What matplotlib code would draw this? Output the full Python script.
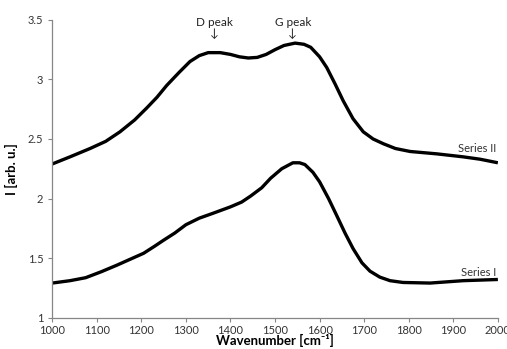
import matplotlib
matplotlib.use("Agg")
import matplotlib.pyplot as plt

plt.rcParams["font.family"] = ["Lato", "DejaVu Sans"]

# --- Data ---
wn_1 = [1000, 1040, 1075, 1110, 1145, 1175, 1205, 1230, 1250, 1275, 1300,
        1330, 1360, 1400, 1425, 1445, 1470, 1490, 1515, 1540, 1555, 1567,
        1585, 1600, 1620, 1638, 1657, 1675, 1695, 1713, 1735, 1758, 1787,
        1848, 1885, 1922, 2000]
series_1 = [1.29, 1.31, 1.335, 1.385, 1.44, 1.49, 1.54, 1.60, 1.65, 1.71, 1.78,
            1.835, 1.875, 1.93, 1.97, 2.02, 2.09, 2.17, 2.25, 2.30, 2.30, 2.285,
            2.22, 2.14, 2.00, 1.86, 1.71, 1.58, 1.46, 1.39, 1.34, 1.31, 1.295,
            1.29, 1.30, 1.31, 1.32]

wn_2 = [1000, 1040, 1085, 1120, 1152, 1185, 1212, 1235, 1257, 1285, 1309,
        1330, 1350, 1377, 1400, 1420, 1440, 1460, 1480, 1500, 1520, 1545,
        1565, 1580, 1600, 1616, 1635, 1653, 1675, 1698, 1720, 1743, 1770,
        1803, 1863, 1922, 1960, 2000]
series_2 = [2.29, 2.35, 2.42, 2.48, 2.56, 2.66, 2.76, 2.85, 2.95, 3.06, 3.15,
            3.20, 3.225, 3.225, 3.21, 3.19, 3.18, 3.185, 3.21, 3.25, 3.285, 3.305,
            3.295, 3.27, 3.19, 3.10, 2.96, 2.82, 2.67, 2.56, 2.50, 2.46, 2.42,
            2.395, 2.375, 2.35, 2.33, 2.30]

peaks = ["D peak", "G peak"]
peak_pos = [1365, 1540]

xticks = list(range(1000, 2001, 100))
yticks = [1, 1.5, 2, 2.5, 3, 3.5]

# --- Figure ---
fig = plt.figure(figsize=(5.07, 3.49), dpi=100)
ax = fig.add_axes([0.103, 0.09, 0.879, 0.853])

for wn, vals in [(wn_1, series_1), (wn_2, series_2)]:
    ax.plot(wn, vals, color="black", linewidth=2.4,
            solid_joinstyle="round", solid_capstyle="butt")

ax.text(1997, 2.37, "Series II", ha="right", va="bottom", fontsize=8, color="#333333")
ax.text(1997, 1.335, "Series I", ha="right", va="bottom", fontsize=8, color="#333333")

for name, pos in zip(peaks, peak_pos):
    ax.annotate(name + "\n\u2193", xy=(pos, 3.43), xycoords="data",
                ha="center", va="center", fontsize=8.5, color="#222222",
                annotation_clip=False, linespacing=1.0)

ax.set_xlim(1000, 2000)
ax.set_ylim(1, 3.5)
ax.set_xticks(xticks)
ax.set_yticks(yticks)
ax.set_yticklabels(["1", "1.5", "2", "2.5", "3", "3.5"])

for side in ["top", "right"]:
    ax.spines[side].set_visible(False)
for side in ["left", "bottom"]:
    ax.spines[side].set_color("#868686")
    ax.spines[side].set_linewidth(0.9)

ax.tick_params(axis="both", direction="out", length=3, width=0.8,
               color="#868686", labelsize=8, labelcolor="#333333")
ax.tick_params(axis="x", pad=2)

ax.set_xlabel("Wavenumber [cm\u207b\u00b9]", fontsize=9.5, fontweight="bold",
              labelpad=-1)
ax.set_ylabel("I [arb. u.]", fontsize=9.5, fontweight="bold", labelpad=7)

fig.savefig("out.png", dpi=100)
